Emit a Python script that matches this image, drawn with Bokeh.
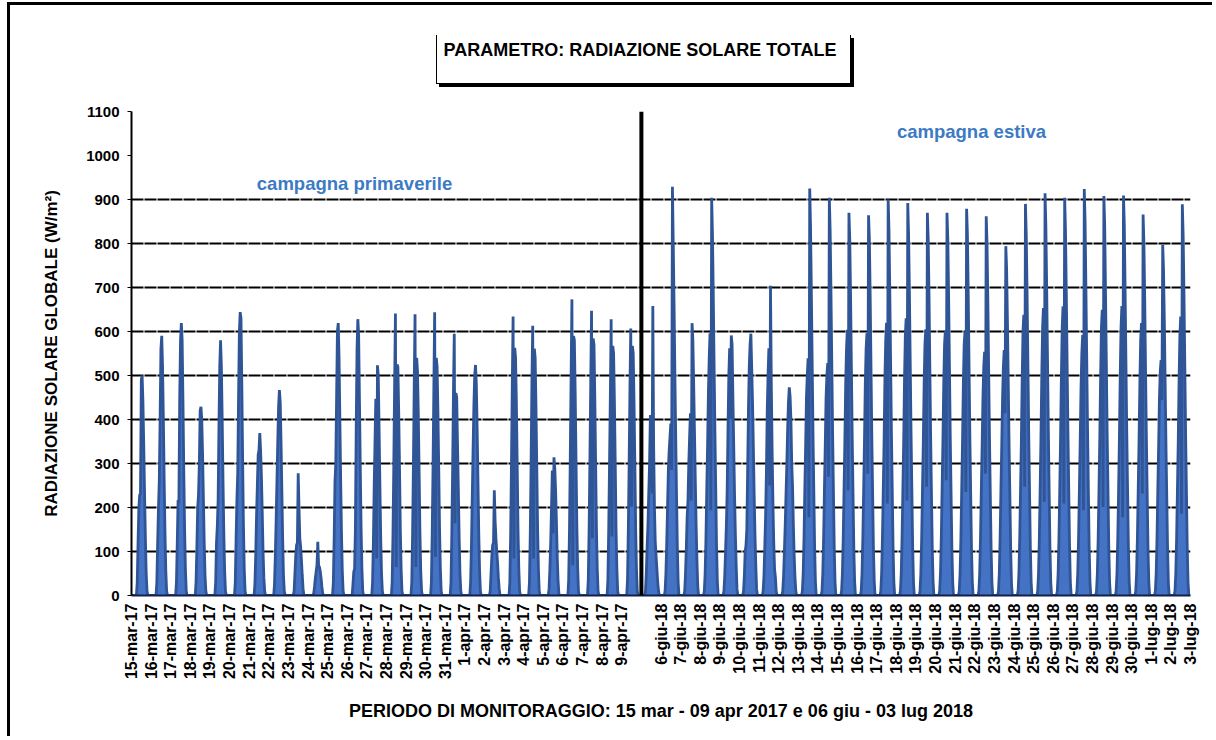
import math
from bokeh.plotting import figure
from bokeh.models import FixedTicker, Span, Label, Range1d, ColumnDataSource, InlineStyleSheet, Title
from bokeh.embed import file_html
from bokeh.resources import INLINE

# ---------------- data ----------------
spring_labels = ["15-mar-17", "16-mar-17", "17-mar-17", "18-mar-17", "19-mar-17", "20-mar-17",
                 "21-mar-17", "22-mar-17", "23-mar-17", "24-mar-17", "25-mar-17", "26-mar-17",
                 "27-mar-17", "28-mar-17", "29-mar-17", "30-mar-17", "31-mar-17", "1-apr-17",
                 "2-apr-17", "3-apr-17", "4-apr-17", "5-apr-17", "6-apr-17", "7-apr-17",
                 "8-apr-17", "9-apr-17"]
summer_labels = ["6-giu-18", "7-giu-18", "8-giu-18", "9-giu-18", "10-giu-18", "11-giu-18",
                 "12-giu-18", "13-giu-18", "14-giu-18", "15-giu-18", "16-giu-18", "17-giu-18",
                 "18-giu-18", "19-giu-18", "20-giu-18", "21-giu-18", "22-giu-18", "23-giu-18",
                 "24-giu-18", "25-giu-18", "26-giu-18", "27-giu-18", "28-giu-18", "29-giu-18",
                 "30-giu-18", "1-lug-18", "2-lug-18", "3-lug-18"]

# hourly radiation (W/m2): spring lists start at hour 7, summer lists at hour 5
spring_first_hour = 7
spring_hourly = [
    [30, 120, 200, 228, 232, 490, 500, 440, 340, 230, 130, 50, 10],
    [30, 120, 198, 260, 400, 560, 590, 520, 400, 260, 140, 55, 10],
    [30, 120, 217, 210, 450, 580, 619, 580, 440, 280, 150, 60, 10],
    [30, 110, 200, 229, 300, 420, 429, 400, 320, 220, 120, 45, 10],
    [30, 120, 157, 217, 380, 520, 580, 520, 400, 260, 140, 55, 10],
    [30, 130, 217, 278, 450, 600, 644, 630, 480, 310, 160, 60, 10],
    [25, 90, 180, 250, 320, 330, 369, 330, 270, 190, 100, 40, 10],
    [25, 90, 170, 260, 350, 430, 467, 440, 350, 240, 130, 45, 10],
    [10, 50, 90, 115, 120, 278, 200, 130, 111, 80, 45, 15, 0],
    [5, 20, 40, 55, 70, 122, 68, 65, 55, 40, 20, 5, 0],
    [30, 130, 259, 300, 450, 600, 619, 540, 400, 260, 140, 55, 10],
    [25, 54, 60, 150, 380, 560, 628, 590, 440, 290, 150, 60, 10],
    [30, 120, 250, 350, 447, 84, 523, 500, 380, 250, 130, 50, 10],
    [30, 140, 300, 480, 641, 65, 525, 520, 420, 290, 150, 60, 10],
    [30, 140, 300, 480, 639, 65, 540, 510, 410, 280, 140, 55, 10],
    [30, 140, 290, 470, 644, 88, 540, 520, 420, 290, 150, 60, 10],
    [30, 140, 290, 460, 595, 164, 460, 450, 340, 240, 130, 50, 10],
    [30, 110, 220, 330, 430, 500, 524, 480, 380, 260, 140, 55, 10],
    [10, 50, 90, 115, 120, 239, 170, 130, 100, 75, 40, 15, 0],
    [30, 140, 300, 480, 634, 84, 563, 540, 440, 300, 150, 60, 10],
    [30, 140, 300, 480, 613, 84, 561, 540, 430, 290, 150, 60, 10],
    [15, 60, 120, 200, 284, 141, 314, 290, 240, 170, 90, 35, 5],
    [35, 150, 320, 500, 673, 69, 590, 580, 460, 310, 160, 65, 10],
    [35, 150, 310, 480, 647, 130, 584, 570, 450, 300, 150, 60, 10],
    [35, 150, 300, 453, 628, 134, 567, 550, 440, 300, 150, 60, 10],
    [35, 150, 300, 470, 607, 202, 567, 550, 440, 300, 150, 60, 10],
]
summer_first_hour = 5
summer_hourly = [
    [10, 50, 110, 160, 232, 300, 410, 380, 232, 658, 340, 200, 120, 90, 60, 30, 10],
    [10, 50, 120, 200, 285, 330, 360, 391, 285, 929, 800, 660, 500, 360, 230, 110, 30],
    [10, 50, 110, 180, 216, 300, 360, 414, 216, 619, 580, 480, 370, 260, 160, 80, 20],
    [10, 50, 130, 240, 340, 460, 540, 596, 194, 904, 820, 680, 520, 370, 240, 110, 30],
    [10, 45, 100, 160, 240, 380, 500, 562, 402, 591, 570, 450, 340, 230, 140, 70, 15],
    [10, 45, 100, 114, 150, 280, 420, 520, 570, 595, 520, 440, 340, 230, 140, 70, 15],
    [10, 45, 110, 180, 280, 420, 500, 562, 250, 704, 480, 330, 210, 120, 60, 42, 10],
    [10, 45, 100, 160, 230, 300, 380, 440, 473, 452, 400, 300, 247, 160, 90, 40, 10],
    [10, 50, 130, 240, 340, 450, 500, 539, 178, 925, 840, 690, 530, 370, 240, 110, 30],
    [10, 50, 130, 240, 340, 450, 500, 528, 270, 904, 830, 690, 530, 370, 240, 110, 30],
    [10, 50, 130, 240, 350, 480, 560, 604, 239, 870, 810, 680, 520, 360, 230, 105, 30],
    [10, 50, 130, 240, 350, 480, 560, 596, 277, 864, 810, 680, 520, 360, 230, 105, 30],
    [10, 50, 130, 240, 350, 490, 580, 620, 209, 900, 830, 690, 530, 370, 240, 110, 30],
    [10, 50, 130, 240, 350, 490, 590, 630, 216, 892, 820, 690, 530, 370, 240, 110, 30],
    [10, 50, 130, 240, 350, 480, 570, 605, 247, 870, 810, 680, 520, 360, 230, 105, 30],
    [10, 50, 130, 240, 350, 480, 570, 602, 262, 870, 810, 680, 520, 360, 230, 105, 30],
    [10, 50, 130, 240, 350, 480, 570, 600, 235, 879, 820, 680, 520, 360, 230, 105, 30],
    [10, 50, 130, 240, 340, 450, 520, 554, 277, 862, 800, 670, 510, 360, 230, 105, 30],
    [10, 50, 130, 240, 340, 450, 520, 558, 414, 794, 740, 620, 480, 340, 220, 100, 25],
    [10, 50, 130, 240, 350, 490, 600, 638, 247, 890, 820, 690, 530, 370, 240, 110, 30],
    [10, 50, 130, 240, 360, 500, 610, 653, 213, 914, 840, 700, 540, 380, 240, 110, 30],
    [10, 50, 130, 240, 360, 500, 610, 657, 209, 904, 830, 690, 530, 370, 240, 110, 30],
    [10, 50, 130, 240, 350, 470, 550, 592, 194, 924, 850, 700, 540, 380, 240, 110, 30],
    [10, 50, 130, 240, 360, 500, 610, 649, 201, 908, 840, 690, 530, 370, 240, 110, 30],
    [10, 50, 130, 240, 360, 500, 610, 658, 178, 909, 840, 690, 530, 370, 240, 110, 30],
    [10, 50, 130, 240, 350, 480, 580, 619, 232, 866, 800, 670, 510, 360, 230, 105, 30],
    [10, 50, 130, 240, 340, 450, 510, 535, 444, 797, 740, 620, 480, 340, 220, 100, 25],
    [10, 50, 130, 240, 350, 490, 590, 634, 186, 889, 820, 690, 530, 370, 240, 110, 30],
]
y_ticks = [0, 100, 200, 300, 400, 500, 600, 700, 800, 900, 1000, 1100]
grid_values = [100, 200, 300, 400, 500, 600, 700, 800, 900]

title_text = "PARAMETRO: RADIAZIONE SOLARE TOTALE"
x_title = "PERIODO DI MONITORAGGIO: 15 mar - 09 apr 2017 e 06 giu - 03 lug 2018"
y_title = "RADIAZIONE SOLARE GLOBALE (W/m\u00b2)"
spring_note = "campagna primaverile"
summer_note = "campagna estiva"

# ---------------- build hourly series ----------------
xs, ys = [], []
n_spring = len(spring_hourly)
for d, vals in enumerate(spring_hourly):
    for h in range(24):
        i = h - spring_first_hour
        xs.append(d * 24 + h)
        ys.append(vals[i] if 0 <= i < len(vals) else 0)
for d, vals in enumerate(summer_hourly):
    for h in range(24):
        i = h - summer_first_hour
        xs.append((n_spring + d) * 24 + h)
        ys.append(vals[i] if 0 <= i < len(vals) else 0)
n_days = n_spring + len(summer_hourly)
xs.append(n_days * 24)
ys.append(0)
src = ColumnDataSource(dict(x=xs, y=ys, y0=[0] * len(xs)))

FONT = "Liberation Sans"
W, H = 1212, 736
FL, FT, FR, FB = 131, 111, 1190, 595   # frame edges in page pixels

p = figure(width=W, height=H, output_backend="svg", toolbar_location=None, title=None,
           x_range=Range1d(0, n_days * 24), y_range=Range1d(0, 1100),
           min_border_left=FL, min_border_right=W - FR, min_border_top=FT, min_border_bottom=H - FB)
p.outline_line_color = None
p.background_fill_color = "white"
p.border_fill_color = "white"

def px_x(px):
    return (px - FL) / (FR - FL) * (n_days * 24)

def px_y(py):
    return (FB - py) / (FB - FT) * 1100

# spacer below the title, then the title itself (boxed by the stylesheet below)
p.add_layout(Title(text=" ", text_font_size="1px", standoff=44), "above")
p.add_layout(Title(text=title_text, align="left", offset=443 - FL, standoff=10,
                   text_font=FONT, text_font_style="bold", text_font_size="18px",
                   text_color="black"), "above")

# outer frame (left/top) and the title box with its shadow
css = """
:host { position: relative; }
:host::before { content: ""; position: absolute; left: 7px; top: 2px; right: 0px; bottom: 0px;
  border-left: 3px solid black; border-top: 3px solid black; z-index: 10; pointer-events: none; }
:host::after { content: ""; position: absolute; left: 436px; top: 35px; width: 413px; height: 48px;
  border-left: 1px solid black; border-right: 1px solid black; border-bottom: 1px solid black;
  box-shadow: 3px 3px 0px 0px black; z-index: 10; pointer-events: none; }
"""
p.stylesheets = [InlineStyleSheet(css=css)]

# grid
p.xgrid.visible = False
p.ygrid.ticker = FixedTicker(ticks=grid_values)
p.ygrid.grid_line_color = "black"
p.ygrid.grid_line_width = 2
p.ygrid.grid_line_dash = "12 1"

# data
p.varea(x="x", y1="y0", y2="y", source=src, fill_color="#4472C4")
p.line(x="x", y="y", source=src, line_color="#2F5597", line_width=2.8)

# separator
p.add_layout(Span(location=n_spring * 24, dimension="height", line_color="black", line_width=4))

# x axis ticks/labels
tick_pos = [d * 24 for d in range(n_spring)] + [(n_spring + d + 1) * 24 for d in range(len(summer_hourly))]
tick_txt = spring_labels + summer_labels
p.xaxis.ticker = FixedTicker(ticks=tick_pos)
p.xaxis.major_label_overrides = {t: s for t, s in zip(tick_pos, tick_txt)}
p.xaxis.major_label_orientation = math.pi / 2
p.xaxis.major_tick_out = 0
p.xaxis.major_tick_in = 0
p.xaxis.minor_tick_out = 0
p.xaxis.minor_tick_in = 0
p.xaxis.major_label_standoff = 8
p.xaxis.major_label_text_font = FONT
p.xaxis.major_label_text_font_style = "bold"
p.xaxis.major_label_text_font_size = "16px"
p.xaxis.major_label_text_color = "black"
p.xaxis.axis_line_color = "#10204a"
p.xaxis.axis_line_width = 2
p.xaxis.axis_label = x_title
p.xaxis.axis_label_text_font = FONT
p.xaxis.axis_label_text_font_style = "bold"
p.xaxis.axis_label_text_font_size = "18px"
p.xaxis.axis_label_text_color = "black"
p.xaxis.axis_label_standoff = 19

p.yaxis.ticker = FixedTicker(ticks=y_ticks)
p.yaxis.major_tick_out = 4
p.yaxis.major_tick_in = 0
p.yaxis.minor_tick_out = 0
p.yaxis.minor_tick_in = 0
p.yaxis.major_tick_line_color = "black"
p.yaxis.major_label_standoff = 8
p.yaxis.major_label_text_font = FONT
p.yaxis.major_label_text_font_style = "bold"
p.yaxis.major_label_text_font_size = "15px"
p.yaxis.major_label_text_color = "black"
p.yaxis.axis_line_color = "black"
p.yaxis.axis_line_width = 2
p.yaxis.axis_label = y_title
p.yaxis.axis_label_text_font = FONT
p.yaxis.axis_label_text_font_style = "bold"
p.yaxis.axis_label_text_font_size = "17px"
p.yaxis.axis_label_text_color = "black"
p.yaxis.axis_label_standoff = 22

# campaign notes
p.add_layout(Label(x=px_x(354), y=px_y(183), text=spring_note, text_align="center", text_baseline="middle",
                   text_font=FONT, text_font_style="bold", text_font_size="18.5px", text_color="#3C7AC4"))
p.add_layout(Label(x=px_x(971), y=px_y(131), text=summer_note, text_align="center", text_baseline="middle",
                   text_font=FONT, text_font_style="bold", text_font_size="18.5px", text_color="#3C7AC4"))

open("out.html", "w").write(file_html(p, INLINE))
